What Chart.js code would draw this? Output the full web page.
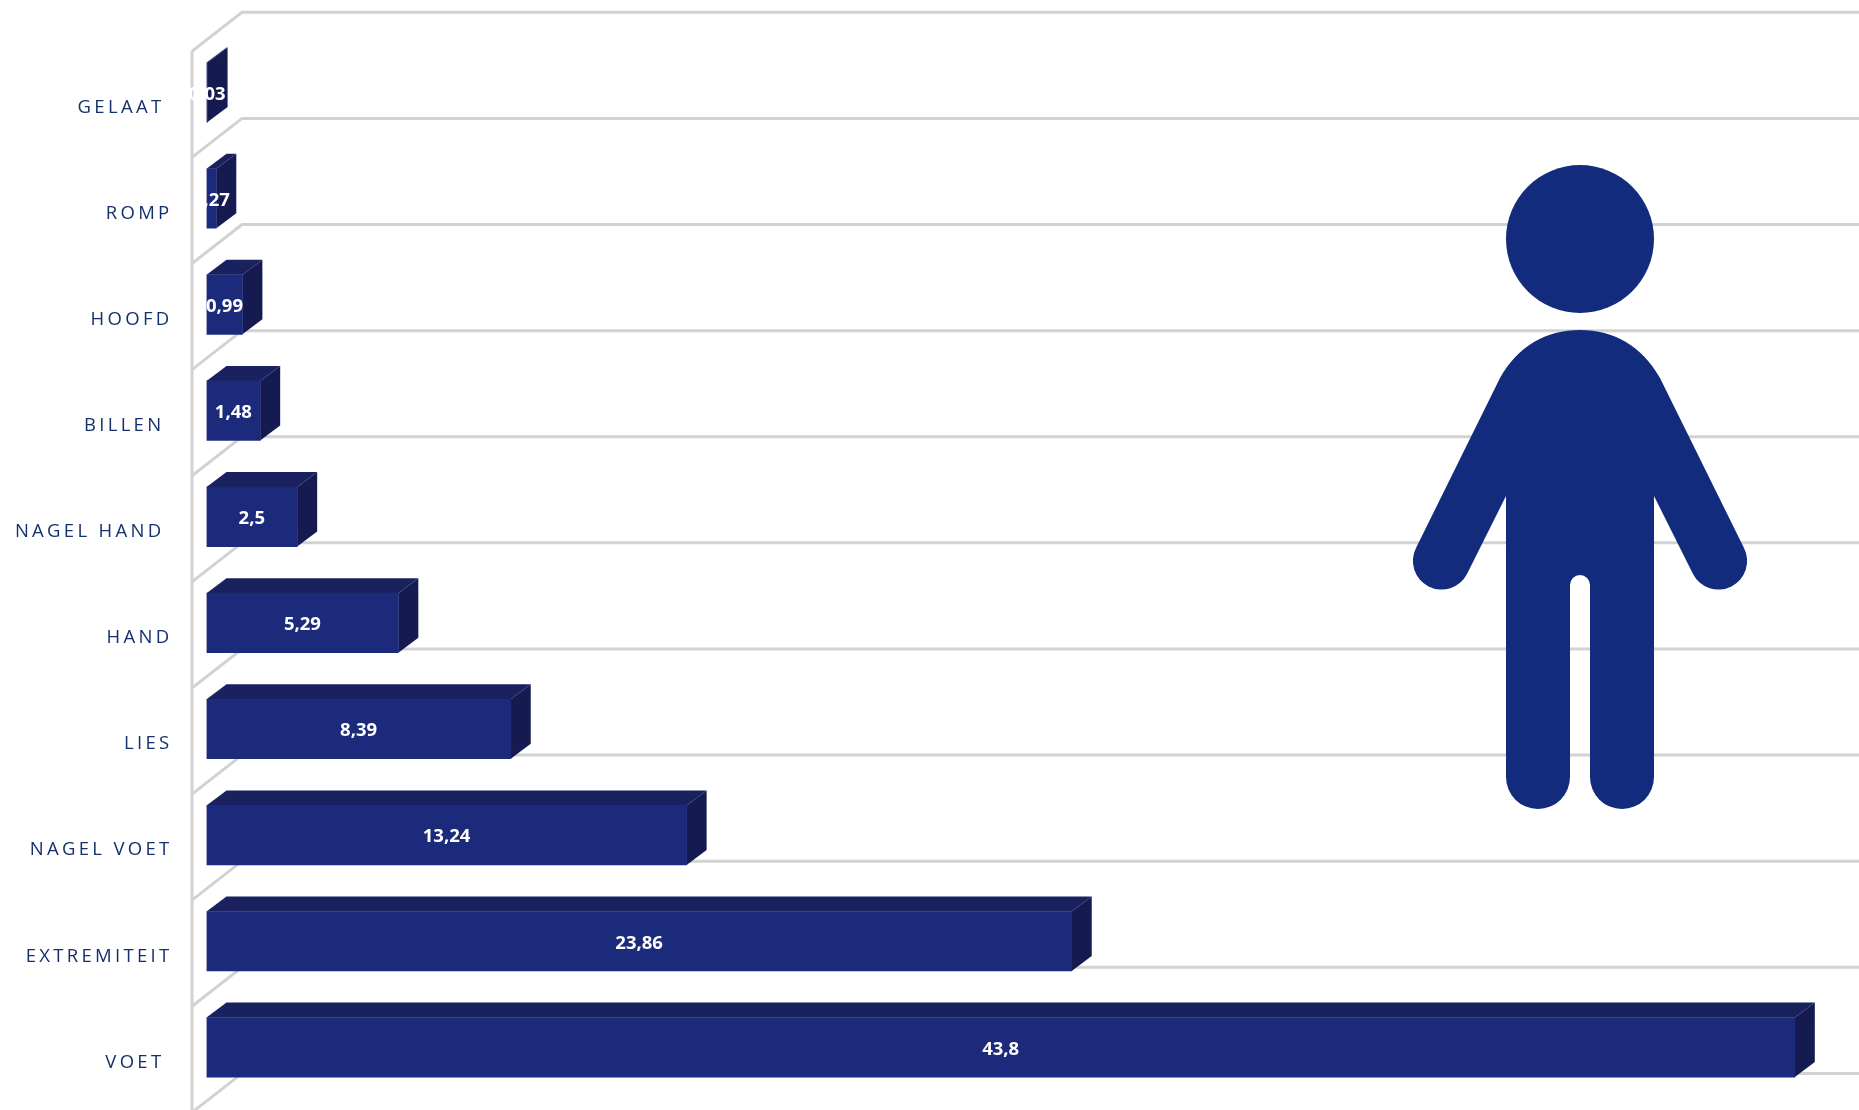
<!DOCTYPE html>
<html>
<head>
<meta charset="utf-8">
<title>Locatie</title>
<script src="https://cdn.jsdelivr.net/npm/chart.js@4"></script>
<style>
    html, body { margin: 0; padding: 0; background: #fff; overflow: hidden; }
    canvas { display: block; }
</style>
</head>
<body>
<canvas id="chart" width="1859" height="1110"></canvas>
<script>
// trailing spaces are in the original labels, they push some of them to the left
const categories = ['GELAAT ', 'ROMP', 'HOOFD', 'BILLEN ', 'NAGEL HAND ', 'HAND', 'LIES', 'NAGEL VOET', 'EXTREMITEIT', 'VOET '];
const values = [0.03, 0.27, 0.99, 1.48, 2.5, 5.29, 8.39, 13.24, 23.86, 43.8];

const DEPTH_X = 20;
const DEPTH_Y = 15;
const FRONT = '#1c2a7b';
const TOP = '#19225f';
const SIDE = '#151b50';
const GRID = '#d2d2d2';

function face(ctx, pts, color) {
    ctx.fillStyle = color;
    ctx.beginPath();
    pts.forEach((p, i) => i ? ctx.lineTo(p[0], p[1]) : ctx.moveTo(p[0], p[1]));
    ctx.closePath();
    ctx.fill();
}

const boxPlugin = {
    id: 'box',
    beforeDraw(chart) {
        chart.ctx.letterSpacing = '3.3px';
    },
    beforeDatasetsDraw(chart) {
        const ctx = chart.ctx;
        ctx.letterSpacing = '0px';
        const y = chart.scales.y;
        const wallX = 192;
        const backX = 242;

        // floor/wall lines, one per category boundary
        ctx.save();
        ctx.strokeStyle = GRID;
        ctx.lineWidth = 3;
        for (let i = 0; i <= categories.length; i++) {
            const b = y.getPixelForValue(i - 0.5);
            ctx.beginPath();
            ctx.moveTo(wallX, b + 12);
            ctx.lineTo(backX, b - 27);
            ctx.lineTo(chart.width, b - 27);
            ctx.stroke();
        }
        ctx.beginPath();
        ctx.moveTo(wallX, y.getPixelForValue(-0.5) + 12);
        ctx.lineTo(wallX, chart.height);
        ctx.stroke();
        ctx.restore();

        // top and side faces of the bars
        chart.getDatasetMeta(0).data.forEach(bar => {
            const t = bar.y - bar.height / 2;
            const b = bar.y + bar.height / 2;
            face(ctx, [[bar.base, t], [bar.x, t], [bar.x + DEPTH_X, t - DEPTH_Y], [bar.base + DEPTH_X, t - DEPTH_Y]], TOP);
            face(ctx, [[bar.x, t], [bar.x + DEPTH_X, t - DEPTH_Y], [bar.x + DEPTH_X, b - DEPTH_Y], [bar.x, b]], SIDE);
        });
    },
    afterDatasetsDraw(chart) {
        const ctx = chart.ctx;
        ctx.save();
        ctx.font = 'bold 18.5px "Open Sans"';
        ctx.fillStyle = '#fff';
        ctx.textAlign = 'center';
        ctx.textBaseline = 'middle';
        chart.getDatasetMeta(0).data.forEach((bar, i) => {
            ctx.fillText(String(values[i]).replace('.', ','), (bar.base + bar.x) / 2, bar.y + 2);
        });
        ctx.restore();
    },
    afterDraw(chart) {
        // person icon
        const ctx = chart.ctx;
        ctx.save();
        ctx.fillStyle = '#132b7d';
        ctx.beginPath();
        ctx.arc(1580, 239, 74, 0, Math.PI * 2);
        ctx.fill();
        ctx.fill(new Path2D('M1580 330 C1546 330 1518 346 1500 378 L1416 548 A28.5 28.5 0 0 0 1467 574 L1506 496 L1506 777 A32 32 0 0 0 1570 777 L1570 585 A10 10 0 0 1 1590 585 L1590 777 A32 32 0 0 0 1654 777 L1654 496 L1693 574 A28.5 28.5 0 0 0 1744 548 L1660 378 C1642 346 1614 330 1580 330 Z'));
        ctx.restore();
    }
};

new Chart(document.getElementById('chart'), {
    type: 'bar',
    data: {
        labels: categories,
        datasets: [{
            data: values,
            backgroundColor: FRONT,
            borderWidth: 0,
            barThickness: 59.5
        }]
    },
    options: {
        indexAxis: 'y',
        responsive: false,
        animation: false,
        layout: { padding: { top: 39.3, bottom: 9.6 } },
        plugins: { legend: { display: false }, tooltip: { enabled: false } },
        scales: {
            x: { display: false, min: 0, max: 45.57 },
            y: {
                afterFit(scale) {
                    scale.width = 206.5;
                    scale.paddingTop = 0;
                    scale.paddingBottom = 0;
                },
                grid: { display: false, drawTicks: false },
                border: { display: false },
                ticks: {
                    autoSkip: false,
                    padding: 34,
                    labelOffset: 15,
                    color: '#14306c',
                    font: { family: '"Open Sans"', size: 18.5 }
                }
            }
        }
    },
    plugins: [boxPlugin]
});
</script>
</body>
</html>
